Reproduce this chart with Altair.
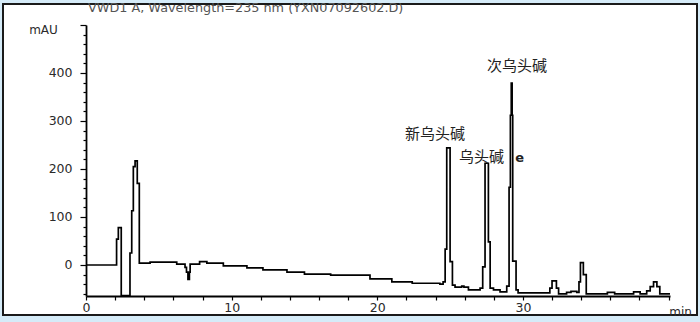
import altair as alt
import pandas as pd

# Chromatogram trace (time in min, absorbance in mAU), step levels
times = [0.0, 2.10, 2.22, 2.42, 3.02, 3.14, 3.25, 3.37, 3.52, 3.66, 4.40, 6.23,
         6.80, 6.90, 7.00, 7.10, 7.15, 7.80, 8.30, 9.43, 11.05, 12.15, 13.80,
         15.00, 16.80, 19.50, 21.00, 22.40, 24.30, 24.52, 24.66, 24.77, 25.00,
         25.16, 25.34, 25.80, 25.95, 26.26, 27.06, 27.24, 27.40, 27.63, 27.75,
         27.98, 28.43, 28.89, 29.05, 29.14, 29.20, 29.26, 29.30, 29.53, 29.67,
         31.85, 32.00, 32.30, 32.45, 33.00, 33.30, 33.70, 33.85, 33.95, 34.15,
         34.35, 35.80, 36.30, 37.60, 38.05, 38.50, 38.74, 38.97, 39.20, 39.40,
         39.54, 40.10]
absorb = [0, 54, 78, -64, 25, 113, 205, 217, 170, 4, 6, 2,
          -5, -15, -30, -15, 2, 7, 4, -2, -6, -10, -15,
          -19, -21, -29, -35, -38, -40, -35, 33, 244, 7,
          -42, -46, -44, -46, -52, -48, -4, 212, 48, -48,
          -52, -56, -44, 162, 312, 379, 312, 8, -52, -58,
          -48, -33, -48, -60, -57, -55, -57, -35, 5, -20,
          -60, -57, -60, -56, -60, -54, -45, -35, -45, -60,
          -60, -60]

peak_labels = ["新乌头碱", "乌头碱", "次乌头碱"]
peak_label_t = [23.97, 27.15, 29.6]
peak_label_v = [273, 225, 415]

extra_label = ["e"]
extra_label_t = [29.78]
extra_label_v = [223]

title_text = ["VWD1 A, Wavelength=235 nm (YXN07092602.D)"]
x_tick_values = list(range(0, 41, 2))
y_tick_values = list(range(-60, 501, 20))

trace = pd.DataFrame({"t": times, "v": absorb, "i": list(range(len(times)))})
labels = pd.DataFrame({"label": peak_labels, "t": peak_label_t, "v": peak_label_v})
elabels = pd.DataFrame({"label": extra_label, "t": extra_label_t, "v": extra_label_v})
titles = pd.DataFrame({"title": title_text})

FONT = "DejaVu Sans"
TXT = "#2a2a2a"

x_scale = alt.Scale(domain=[0, 40.1], nice=False, zero=False)
y_scale = alt.Scale(domain=[-64.6, 500], nice=False, zero=False)

x_axis = alt.Axis(
    values=x_tick_values, tickCount=100, format="d",
    labelExpr="(datum.value % 10 == 0 && datum.value < 40) ? datum.label : ''",
    labelFlush=False, labelOverlap=False,
    tickSize=4, tickColor="black", tickWidth=1.2,
    domainColor="black", domainWidth=1.8,
    labelFont=FONT, labelFontSize=12.5, labelColor=TXT, labelPadding=1,
    grid=False,
    title="min", titleX=594, titleY=15, titleAlign="center", titleBaseline="middle",
    titleFont=FONT, titleFontSize=12, titleFontWeight="normal", titleColor=TXT,
    zindex=1,
)
y_axis = alt.Axis(
    values=y_tick_values, tickCount=100, format="d",
    labelExpr="(datum.value % 100 == 0 && datum.value < 500) ? datum.label : ''",
    labelFlush=False, labelOverlap=False,
    tickSize={"condition": {"test": "datum.value % 100 == 0", "value": 6}, "value": 3},
    tickColor="black", tickWidth=1.2,
    domainColor="black", domainWidth=1.8,
    labelFont=FONT, labelFontSize=12.5, labelColor=TXT, labelPadding=8,
    grid=False,
    title="mAU", titleAngle=0, titleX=-43, titleY=4, titleAlign="center", titleBaseline="middle",
    titleFont=FONT, titleFontSize=12, titleFontWeight="normal", titleColor=TXT,
    zindex=1,
)

frame = alt.Chart(pd.DataFrame({"a": [0]})).mark_rect(
    fill="white", stroke="#1a1a1a", strokeWidth=2
).encode(x=alt.value(-83), x2=alt.value(611), y=alt.value(-21), y2=alt.value(290))

line = alt.Chart(trace).mark_line(
    interpolate="step-after", color="black", strokeWidth=1.7, clip=True
).encode(
    x=alt.X("t:Q", scale=x_scale, axis=x_axis),
    y=alt.Y("v:Q", scale=y_scale, axis=y_axis),
    order="i:Q",
)

text = alt.Chart(labels).mark_text(
    font="Noto Sans CJK SC", fontSize=15, color="#222222", baseline="middle", align="center"
).encode(x=alt.X("t:Q", scale=x_scale), y=alt.Y("v:Q", scale=y_scale), text="label:N")

etext = alt.Chart(elabels).mark_text(
    font=FONT, fontSize=13, fontWeight="bold", color="#222222", baseline="middle", align="center"
).encode(x=alt.X("t:Q", scale=x_scale), y=alt.Y("v:Q", scale=y_scale), text="label:N")

title_mark = alt.Chart(titles).mark_text(
    font=FONT, fontSize=12.8, color="#555555", baseline="middle", align="left"
).encode(x=alt.value(2), y=alt.value(-17), text="title:N")

chart = alt.layer(frame, line, text, etext, title_mark).properties(
    width=584, height=271,
    padding={"left": 86, "top": 25, "right": 30, "bottom": 26},
    autosize=alt.AutoSizeParams(type="none"),
).configure(background="#d5ebf8").configure_view(strokeWidth=0)

chart.save("out.html", embed_options={"renderer": "svg", "actions": False})
